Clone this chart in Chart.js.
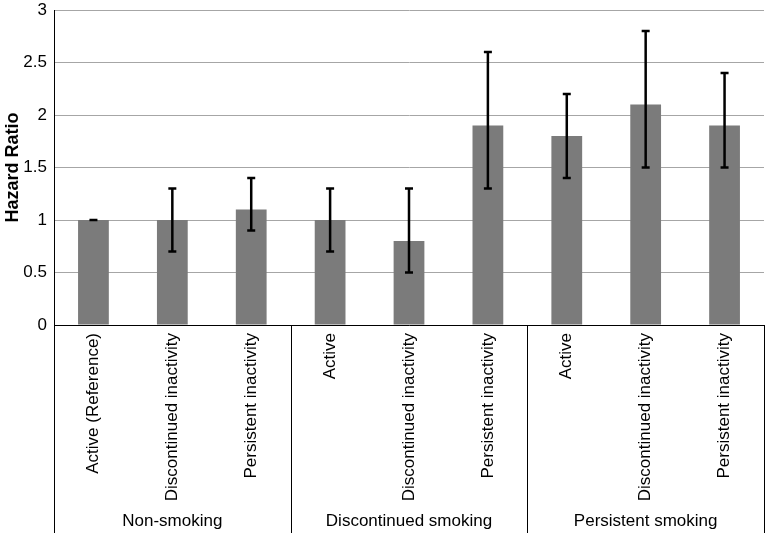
<!DOCTYPE html>
<html>
<head>
<meta charset="utf-8">
<script src="https://cdn.jsdelivr.net/npm/chart.js@4"></script>
<style>
  html, body { margin: 0; padding: 0; background: #fff; }
  #wrap { width: 767px; height: 533px; }
</style>
</head>
<body>
<div id="wrap"><canvas id="hr-chart" width="767" height="533"></canvas></div>
<script>
// Hazard ratios by smoking status and physical activity

const categories = [
    "Active (Reference)", "Discontinued inactivity", "Persistent inactivity",
    "Active", "Discontinued inactivity", "Persistent inactivity",
    "Active", "Discontinued inactivity", "Persistent inactivity"
];
const groups = ["Non-smoking", "Discontinued smoking", "Persistent smoking"];
const groupSize = 3;

const hazardRatio = [1.0, 1.0, 1.1, 1.0, 0.8, 1.9, 1.8, 2.1, 1.9];
const ciLower = [1.0, 0.7, 0.9, 0.7, 0.5, 1.3, 1.4, 1.5, 1.5];
const ciUpper = [1.0, 1.3, 1.4, 1.3, 1.3, 2.6, 2.2, 2.8, 2.4];

const yTicks = [0, 0.5, 1, 1.5, 2, 2.5, 3];

const FONT = "'Liberation Sans', Arial, Helvetica, sans-serif";

// Draws the confidence interval whiskers on top of the bars
const errorBarPlugin = {
    id: 'errorBars',
    afterDatasetsDraw(chart) {
        const ctx = chart.ctx;
        const x = chart.scales.x;
        const y = chart.scales.y;
        ctx.save();
        ctx.strokeStyle = '#000';
        ctx.lineWidth = 2.5;
        hazardRatio.forEach((v, i) => {
            const cx = x.getPixelForValue(i);
            const top = y.getPixelForValue(ciUpper[i]);
            const bot = y.getPixelForValue(ciLower[i]);
            ctx.beginPath();
            ctx.moveTo(cx, top);
            ctx.lineTo(cx, bot);
            ctx.moveTo(cx - 4, top);
            ctx.lineTo(cx + 4, top);
            ctx.moveTo(cx - 4, bot);
            ctx.lineTo(cx + 4, bot);
            ctx.stroke();
        });
        ctx.restore();
    }
};

// Draws the group boxes and labels under the category labels
const groupPlugin = {
    id: 'groupLabels',
    afterDraw(chart) {
        const ctx = chart.ctx;
        const x = chart.scales.x;
        const area = chart.chartArea;
        const bottom = chart.height;
        const step = (area.right - area.left) / categories.length;
        ctx.save();
        ctx.strokeStyle = '#000';
        ctx.lineWidth = 1;
        for (let g = 0; g <= groups.length; g++) {
            const px = Math.round(area.left + g * groupSize * step) + 0.5;
            ctx.beginPath();
            ctx.moveTo(px, area.bottom);
            ctx.lineTo(px, bottom);
            ctx.stroke();
        }
        ctx.fillStyle = '#000';
        ctx.font = '17px ' + FONT;
        ctx.textAlign = 'center';
        ctx.textBaseline = 'middle';
        groups.forEach((name, g) => {
            const mid = x.getPixelForValue(g * groupSize + 1);
            ctx.fillText(name, mid, 521);
        });
        ctx.restore();
    }
};

const ctx = document.getElementById('hr-chart').getContext('2d');
new Chart(ctx, {
    type: 'bar',
    data: {
        labels: categories,
        datasets: [{
            label: 'Hazard Ratio',
            data: hazardRatio,
            backgroundColor: '#7b7b7b',
            borderWidth: 0,
            barPercentage: 0.39,
            categoryPercentage: 1.0
        }]
    },
    options: {
        responsive: false,
        animation: false,
        devicePixelRatio: 1,
        layout: { padding: { top: 10, right: 3, left: 0, bottom: 0 } },
        plugins: {
            legend: { display: false },
            tooltip: { enabled: false }
        },
        scales: {
            x: {
                grid: { display: false, drawTicks: false },
                border: { display: true, color: '#000', width: 1 },
                ticks: {
                    color: '#000',
                    font: { family: FONT, size: 17 },
                    minRotation: 90,
                    maxRotation: 90,
                    autoSkip: false,
                    padding: 8
                },
                afterFit(scale) { scale.height = 208; }
            },
            y: {
                min: 0,
                max: 3,
                afterBuildTicks(scale) {
                    scale.ticks = yTicks.map(v => ({ value: v }));
                },
                grid: { color: '#a6a6a6', lineWidth: 1, drawTicks: false },
                border: { display: true, color: '#000', width: 1 },
                ticks: {
                    color: '#000',
                    font: { family: FONT, size: 17 },
                    padding: 7,
                    callback: (value) => String(value)
                },
                title: {
                    display: true,
                    text: 'Hazard Ratio',
                    color: '#000',
                    font: { family: FONT, size: 18, weight: 'bold' },
                    padding: { top: 2, bottom: 0 }
                },
                afterFit(scale) {
                    scale.width = 54;
                    scale.paddingTop = 0;
                    scale.paddingBottom = 0;
                }
            }
        }
    },
    plugins: [errorBarPlugin, groupPlugin]
});
</script>
</body>
</html>
